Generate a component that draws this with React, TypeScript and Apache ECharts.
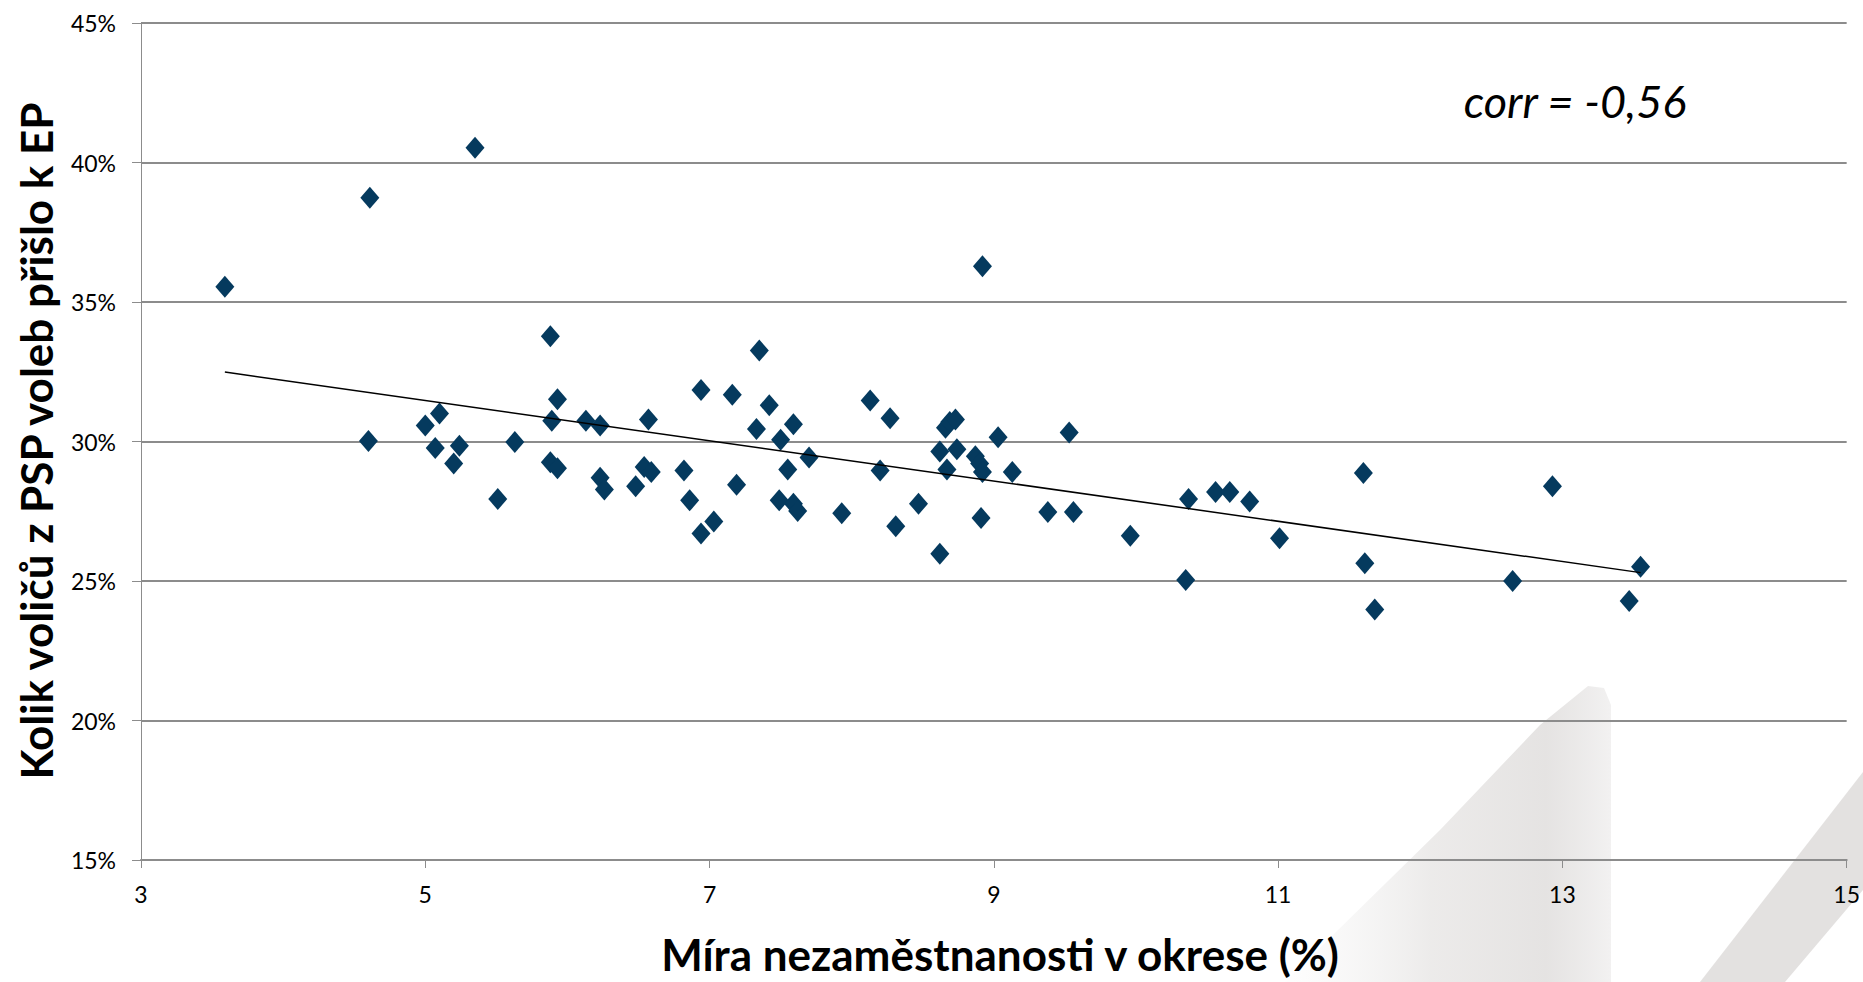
import React, { useEffect, useRef } from "react";
import * as echarts from "echarts";

// Unemployment rate in district (%) and share of PSP voters who came to EP elections (%)
const unemployment: number[] = [
  3.59, 4.61, 5.35, 4.6, 5.0, 5.1, 5.07, 5.24, 5.2, 5.51, 5.63, 5.88, 5.93, 5.89, 5.88, 5.93,
  6.13, 6.23, 6.23, 6.26, 6.48, 6.54, 6.59, 6.57, 6.82, 6.86, 6.94, 6.94, 7.03, 7.16, 7.19,
  7.35, 7.33, 7.42, 7.5, 7.59, 7.55, 7.49, 7.59, 7.62, 7.7, 7.93, 8.13, 8.2, 8.27, 8.31, 8.47,
  8.62, 8.62, 8.66, 8.69, 8.73, 8.67, 8.74, 8.87, 8.9, 8.92, 8.91, 8.92, 9.03, 9.13, 9.38,
  9.53, 9.56, 9.96, 10.35, 10.37, 10.56, 10.66, 10.8, 11.01, 11.6, 11.61, 11.68, 12.65, 12.93,
  13.47, 13.55,
];
const turnoutShare: number[] = [
  35.55, 38.74, 40.53, 30.02, 30.57, 31.0, 29.77, 29.85, 29.21, 27.94, 29.98, 33.77, 31.51,
  30.74, 29.26, 29.04, 30.74, 30.57, 28.7, 28.28, 28.4, 29.09, 28.91, 30.79, 28.96, 27.89,
  31.85, 26.7, 27.13, 31.68, 28.45, 33.26, 30.45, 31.3, 30.06, 30.62, 29.0, 27.89, 27.77,
  27.51, 29.43, 27.43, 31.47, 28.96, 30.83, 26.96, 27.77, 29.64, 25.98, 30.49, 30.7, 30.79,
  29.0, 29.72, 29.47, 29.21, 28.91, 27.26, 36.28, 30.15, 28.91, 27.47, 30.32, 27.47, 26.62,
  25.04, 27.94, 28.19, 28.19, 27.85, 26.53, 28.87, 25.64, 23.98, 25.0, 28.4, 24.28, 25.51,
];
// Linear trend line endpoints [x, y]
const trendX: number[] = [3.59, 13.55];
const trendY: number[] = [32.49, 25.3];

const xTicks: number[] = [3, 5, 7, 9, 11, 13, 15];
const yAxisTitle = "Kolik voličů z PSP voleb přišlo k EP";
const xAxisTitle = "Míra nezaměstnanosti v okrese (%)";
const corrLabel = "corr = -0,56";

export default function App() {
  const ref = useRef<HTMLDivElement>(null);

  useEffect(() => {
    if (!ref.current) return;
    const chart = echarts.init(ref.current, undefined, { renderer: "svg" });
    const points = unemployment.map((x, i) => [x, turnoutShare[i]]);
    const trend = trendX.map((x, i) => [x, trendY[i]]);
    const gridColor = "#8c8c8c";
    const font = "Lato, 'Open Sans', sans-serif";

    chart.setOption({
      animation: false,
      backgroundColor: "#ffffff",
      grid: { left: 141, right: 16, top: 23, bottom: 122, containLabel: false },
      xAxis: {
        type: "value",
        min: 3,
        max: 15,
        splitLine: { show: false },
        axisLine: { show: true, lineStyle: { color: gridColor, width: 2 } },
        axisTick: {
          show: true,
          customValues: xTicks,
          length: 8,
          lineStyle: { color: gridColor, width: 1 },
        },
        axisLabel: {
          customValues: xTicks,
          margin: 22,
          color: "#000",
          fontSize: 23,
          fontFamily: font,
        },
      },
      yAxis: {
        type: "value",
        min: 15,
        max: 45,
        interval: 5,
        splitLine: { show: true, lineStyle: { color: gridColor, width: 2 } },
        axisLine: { show: true, lineStyle: { color: gridColor, width: 1 } },
        axisTick: { show: true, length: 9, lineStyle: { color: gridColor, width: 1 } },
        axisLabel: {
          margin: 25,
          color: "#000",
          fontSize: 23,
          fontFamily: font,
          formatter: "{value}%",
        },
      },
      graphic: [
        {
          type: "polygon",
          z: -10,
          silent: true,
          shape: {
            points: [
              [1285, 982],
              [1440, 830],
              [1540, 725],
              [1588, 686],
              [1604, 688],
              [1611, 705],
              [1611, 982],
            ],
          },
          style: {
            fill: new echarts.graphic.LinearGradient(0, 0, 1, 0, [
              { offset: 0, color: "rgba(240,240,240,0.1)" },
              { offset: 0.45, color: "rgba(228,226,225,0.7)" },
              { offset: 0.8, color: "rgba(226,224,223,0.9)" },
              { offset: 1, color: "rgba(242,241,241,1)" },
            ]),
          },
        },
        {
          type: "polygon",
          z: -10,
          silent: true,
          shape: {
            points: [
              [1700, 982],
              [1863, 772],
              [1863, 890],
              [1785, 982],
            ],
          },
          style: { fill: "rgba(222,220,219,0.85)" },
        },
        {
          type: "text",
          x: 36,
          y: 441,
          rotation: Math.PI / 2,
          style: {
            text: yAxisTitle,
            fill: "#000",
            font: `bold 44px ${font}`,
            align: "center",
            verticalAlign: "middle",
          },
        },
        {
          type: "text",
          x: 1000,
          y: 954,
          style: {
            text: xAxisTitle,
            fill: "#000",
            font: `bold 44px ${font}`,
            align: "center",
            verticalAlign: "middle",
          },
        },
        {
          type: "text",
          x: 1575,
          y: 101,
          style: {
            text: corrLabel,
            fill: "#000",
            font: `italic 45px ${font}`,
            align: "center",
            verticalAlign: "middle",
          },
        },
      ],
      series: [
        {
          type: "scatter",
          data: points,
          symbol: "diamond",
          symbolSize: [19, 22],
          itemStyle: { color: "#053a5e", opacity: 1 },
          z: 3,
        },
        {
          type: "line",
          data: trend,
          symbol: "none",
          lineStyle: { color: "#000", width: 1.5 },
          z: 4,
        },
      ],
    });

    return () => chart.dispose();
  }, []);

  return (
    <div
      ref={ref}
      style={{ position: "fixed", left: 0, top: 0, width: 1863, height: 982 }}
    />
  );
}
